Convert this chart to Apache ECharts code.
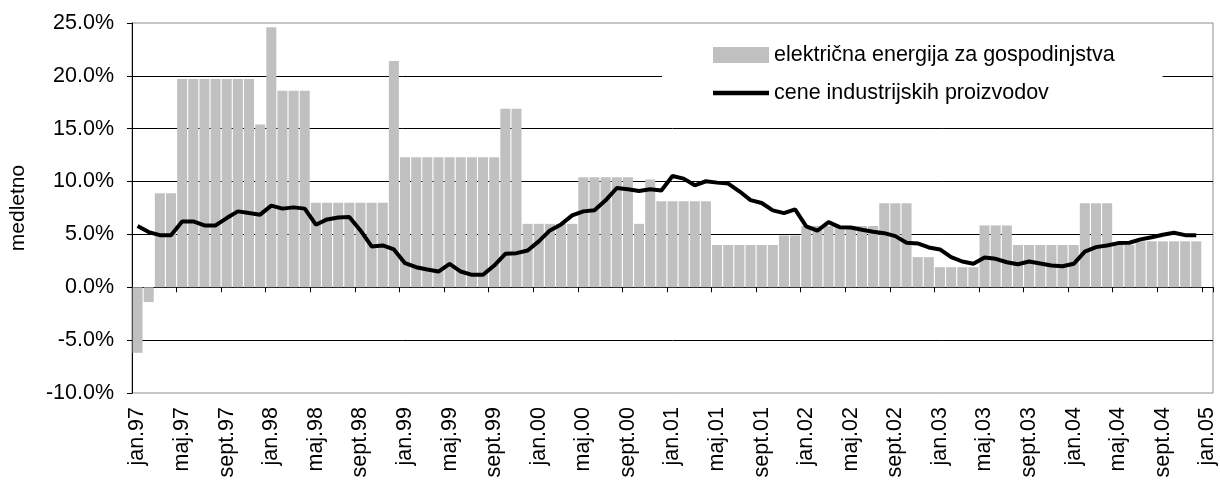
<!DOCTYPE html>
<html>
<head>
<meta charset="utf-8">
<script src="https://cdn.jsdelivr.net/npm/echarts@6/dist/echarts.min.js"></script>
<style>
  html, body { margin: 0; padding: 0; background: #fff; }
  #chart { width: 1220px; height: 481px; }
</style>
</head>
<body>
<div id="chart"></div>
<script>
// meseci (jan.97 - jan.05)
let months = ["jan", "feb", "mar", "apr", "maj", "jun", "jul", "avg", "sept", "okt", "nov", "dec"];
let years = ["97", "98", "99", "00", "01", "02", "03", "04", "05"];

// električna energija za gospodinjstva, % medletno
let elektrika = [
  -6.2, -1.4, 8.9, 8.9, 19.7, 19.7, 19.7, 19.7, 19.7, 19.7, 19.7, 15.4,
  24.6, 18.6, 18.6, 18.6, 8.0, 8.0, 8.0, 8.0, 8.0, 8.0, 8.0, 21.4,
  12.3, 12.3, 12.3, 12.3, 12.3, 12.3, 12.3, 12.3, 12.3, 16.9, 16.9, 6.0,
  6.0, 6.0, 6.0, 6.0, 10.4, 10.4, 10.4, 10.4, 10.4, 6.0, 10.2, 8.15,
  8.15, 8.15, 8.15, 8.15, 4.0, 4.0, 4.0, 4.0, 4.0, 4.0, 4.9, 4.9,
  5.8, 5.8, 5.8, 5.8, 5.8, 5.8, 5.8, 7.95, 7.95, 7.95, 2.85, 2.85,
  1.9, 1.9, 1.9, 1.9, 5.85, 5.85, 5.85, 4.0, 4.0, 4.0, 4.0, 4.0,
  4.0, 7.95, 7.95, 7.95, 4.0, 4.0, 4.35, 4.35, 4.35, 4.35, 4.35, 4.35
];

// cene industrijskih proizvodov, % medletno
let industrija = [
  5.8, 5.22, 4.93, 4.93, 6.23, 6.23, 5.85, 5.85, 6.55, 7.18, 7.02, 6.87,
  7.72, 7.44, 7.56, 7.44, 5.92, 6.42, 6.61, 6.65, 5.38, 3.86, 3.96, 3.58,
  2.28, 1.9, 1.68, 1.49, 2.22, 1.49, 1.18, 1.18, 2.06, 3.17, 3.23, 3.48,
  4.34, 5.38, 5.95, 6.8, 7.18, 7.28, 8.23, 9.39, 9.27, 9.11, 9.27, 9.15,
  10.53, 10.28, 9.65, 10.03, 9.9, 9.81, 9.08, 8.25, 7.97, 7.28, 7.02, 7.37,
  5.76, 5.35, 6.17, 5.69, 5.66, 5.44, 5.25, 5.12, 4.84, 4.21, 4.15, 3.77,
  3.58, 2.85, 2.44, 2.22, 2.82, 2.69, 2.37, 2.18, 2.44, 2.25, 2.06, 1.99,
  2.22, 3.38, 3.8, 3.96, 4.18, 4.21, 4.53, 4.74, 4.97, 5.16, 4.93, 4.93
];

let seriesNames = ["električna energija za gospodinjstva", "cene industrijskih proizvodov"];

// kategorije: mesec.leto
let categories = [];
for (let y = 0; y < years.length; y++) {
  for (let m = 0; m < months.length; m++) {
    if (y == years.length - 1 && m > 0) break;
    categories.push(months[m] + "." + years[y]);
  }
}

let font = "'Liberation Sans', Arial, sans-serif";

let textStyle = function(size) {
  return {
    color: "#000",
    fontFamily: font,
    fontSize: size
  }
}

let chart = echarts.init(document.getElementById("chart"));

chart.setOption({
  animation: false,
  backgroundColor: "#fff",
  grid: {
    left: 129,
    right: 7,
    top: 23,
    bottom: 88,
    show: true,
    borderColor: "#8c8c8c",
    borderWidth: 1,
    backgroundColor: "transparent"
  },
  legend: {
    orient: "vertical",
    left: 662,
    top: 29,
    padding: [15, 48, 15, 51],
    itemGap: 16,
    itemWidth: 56,
    itemHeight: 16,
    backgroundColor: "#fff",
    textStyle: textStyle(21.5),
    data: [
      { name: seriesNames[0], icon: "rect" },
      // črta brez simbola
      { name: seriesNames[1], icon: "path://M0,0 H50 V4 H0 Z" }
    ]
  },
  xAxis: [
    {// os na ničli, samo črta in oznake
      type: "category",
      data: categories,
      position: "bottom",
      axisLine: { onZero: true, lineStyle: { color: "#000", width: 1 } },
      axisTick: { show: true, interval: 3, length: 5, lineStyle: { color: "#000" } },
      axisLabel: { show: false },
      splitLine: { show: false }
    },
    {// spodnja os z nazivi mesecev
      type: "category",
      data: categories,
      position: "bottom",
      axisLine: { show: false, onZero: false },
      axisTick: { show: false },
      axisLabel: {
        interval: 3,
        rotate: 90,
        margin: 14,
        ...textStyle(21.5)
      },
      splitLine: { show: false }
    }
  ],
  yAxis: {
    type: "value",
    min: -10,
    max: 25,
    interval: 5,
    name: "medletno",
    nameLocation: "middle",
    nameGap: 103,
    nameTextStyle: textStyle(21),
    axisLine: { show: true, lineStyle: { color: "#000", width: 1 } },
    axisTick: { show: true, length: 5, lineStyle: { color: "#000" } },
    axisLabel: {
      margin: 18,
      formatter: function(v) { return v.toFixed(1) + "%"; },
      ...textStyle(21.5)
    },
    splitLine: {
      show: true,
      showMinLine: false,
      showMaxLine: false,
      lineStyle: { color: "#000", width: 1 }
    }
  },
  series: [
    {
      name: seriesNames[0],
      type: "bar",
      xAxisIndex: 0,
      data: elektrika,
      barCategoryGap: "10%",
      itemStyle: { color: "#c0c0c0" }
    },
    {
      name: seriesNames[1],
      type: "line",
      xAxisIndex: 0,
      data: industrija,
      symbol: "none",
      lineStyle: { color: "#000", width: 4 },
      itemStyle: { color: "#000" },
      z: 3
    }
  ]
});
</script>
</body>
</html>
